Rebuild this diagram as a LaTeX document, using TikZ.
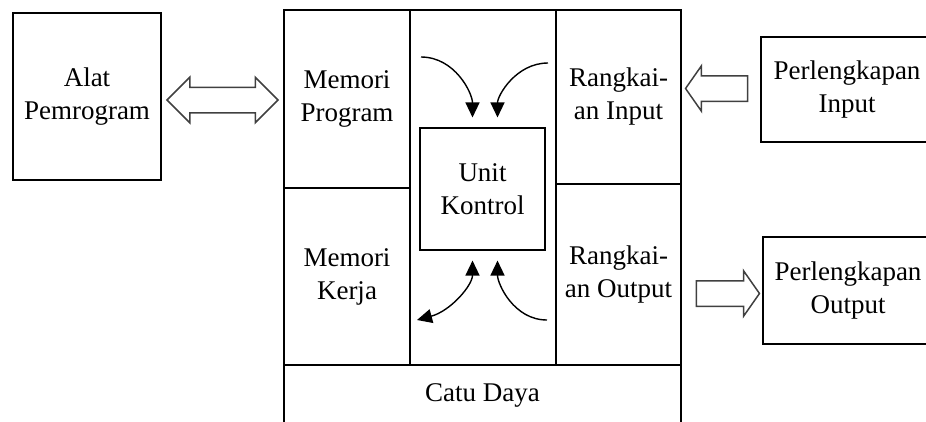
\documentclass[tikz,border=0pt]{standalone}
\usepackage{fontspec}
\setmainfont{Liberation Serif}
\usetikzlibrary{arrows.meta,shapes.arrows,calc}

\begin{document}
\begin{tikzpicture}[x=1pt, y=1pt,
   >={Triangle[length=15pt,width=14pt]},
   box/.style={draw, line width=1.1pt, align=center, inner sep=0pt,
               font=\fontsize{27}{33}\selectfont},
   flow/.style={->, line width=1.4pt},
   hollow/.style={draw=black!75, line width=1.5pt, fill=white,
                  inner xsep=0pt, inner ysep=12pt, minimum width=44pt},
]
\useasboundingbox (0,0) rectangle (926,-421);
% programmer on the left
\node[box, minimum width=148pt, minimum height=167pt] (alat) at (87,-96.5) {Alat\\Pemrogram};
% the PLC itself
\node[box, minimum width=146pt, minimum height=355pt] (mid) at (483,-187.5) {};
\node[box, minimum width=126pt, minimum height=178pt] (mprog) at (347,-99) {Memori\\Program};
\node[box, minimum width=126pt, minimum height=177pt] (mkerja) at (347,-276.5) {Memori\\Kerja};
\node[box, minimum width=125pt, minimum height=174pt] (rin) at (618.5,-97) {Rangkai-\\an Input};
\node[box, minimum width=125pt, minimum height=181pt] (rout) at (618.5,-274.5) {Rangkai-\\an Output};
\node[box, minimum width=125pt, minimum height=122pt] (kontrol) at (482.5,-189) {Unit\\Kontrol};
\node[box, minimum width=397pt, minimum height=60pt] (catu) at (482.5,-395) {Catu Daya};
% devices on the right
\node[box, minimum width=172pt, minimum height=105pt] (pin) at (847,-89.5) {Perlengkapan\\Input};
\node[box, minimum width=170pt, minimum height=107pt] (pout) at (848,-290.5) {Perlengkapan\\Output};
% block arrows
\node[hollow, double arrow, minimum height=111pt, double arrow head extend=10pt,
      double arrow tip angle=90] (dio) at (222.5,-100) {};
\node[hollow, single arrow, shape border rotate=180, minimum height=62pt,
      single arrow head extend=10pt, single arrow tip angle=110] (ain) at (721,-88.5) {};
\node[hollow, single arrow, minimum height=63pt,
      single arrow head extend=10pt, single arrow tip angle=110] (aout) at (723.5,-293.5) {};
% data flow around the control unit
\coordinate (c1) at (421,-57);
\coordinate (c2) at (548,-63);
\coordinate (c3) at (417,-320);
\coordinate (c4) at (547,-320);
\draw[flow, shorten >=10pt] (c1) to[out=0,in=90] ([xshift=-10pt]kontrol.north);
\draw[flow, shorten >=10pt] (c2) to[out=180,in=90] ([xshift=15pt]kontrol.north);
\draw[flow, <->, shorten >=10pt] (c3) to[out=15,in=-90] ([xshift=-10pt]kontrol.south);
\draw[flow, shorten >=10pt] (c4) to[out=180,in=-90] ([xshift=15pt]kontrol.south);
\end{tikzpicture}
\end{document}
